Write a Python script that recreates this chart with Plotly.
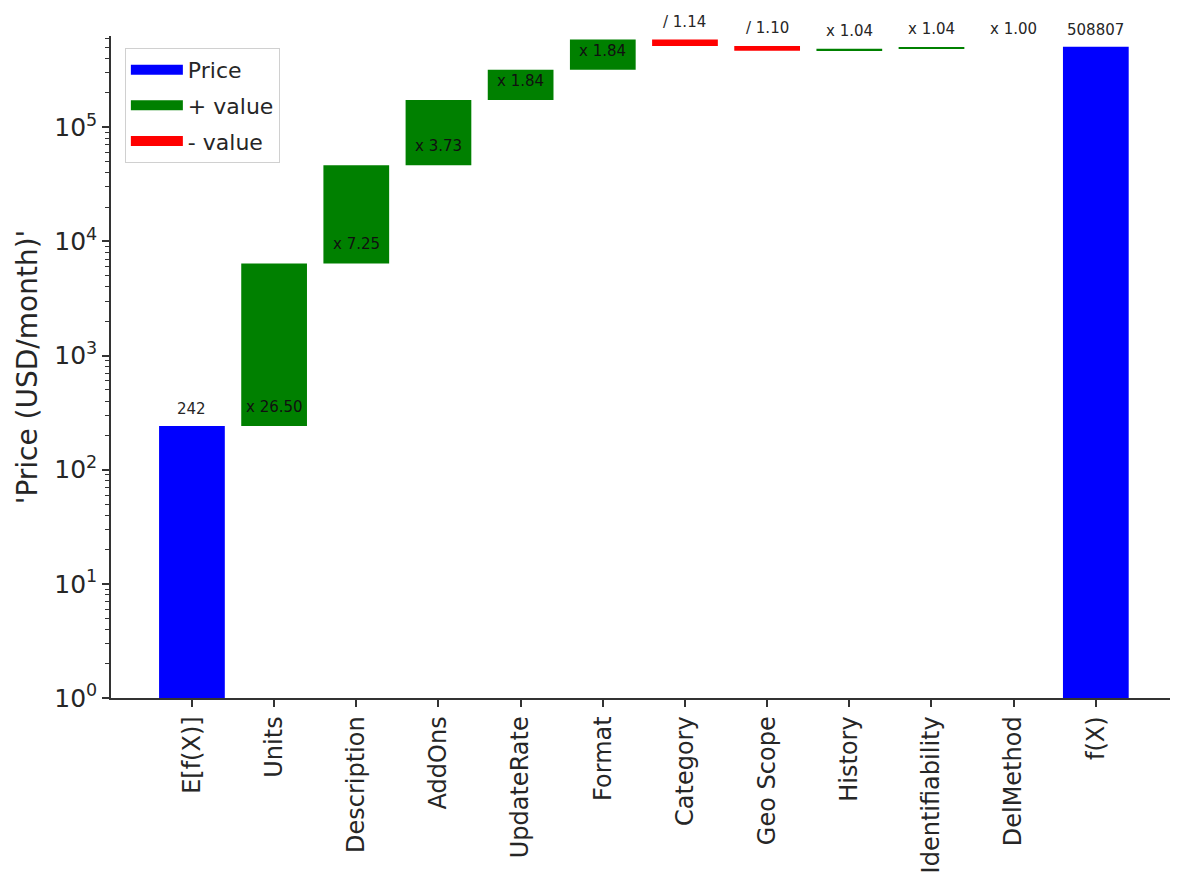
import math
import plotly.graph_objects as go

# ---- data ----
categories = ["E[f(X)]", "Units", "Description", "AddOns", "UpdateRate", "Format",
              "Category", "Geo Scope", "History", "Identifiability", "DelMethod", "f(X)"]
base_price = 242
final_price = 508807
feature_names = categories[1:-1]
ops = ["x", "x", "x", "x", "x", "/", "/", "x", "x", "x"]
factors = [26.50, 7.25, 3.73, 1.84, 1.84, 1.14, 1.10, 1.04, 1.04, 1.00]
legend_names = ["Price", "+ value", "- value"]
ytick_vals = [1, 10, 100, 1000, 10000, 100000]
ytick_text = ["10<sup>0</sup>", "10<sup>1</sup>", "10<sup>2</sup>", "10<sup>3</sup>",
              "10<sup>4</sup>", "10<sup>5</sup>"]

FONT = "DejaVu Sans"
TXT = "#262626"
COLORS = ["#0000FF", "#008000", "#FF0000"]

# cumulative path
starts, ends = [], []
cur = base_price
for op, f in zip(ops, factors):
    new = cur * f if op == "x" else cur / f
    starts.append(cur)
    ends.append(new)
    cur = new

gx, gb, gy = [], [], []
rx, rb, ry = [], [], []
for name, op, s, e in zip(feature_names, ops, starts, ends):
    if op == "x":
        gx.append(name); gb.append(s); gy.append(e - s)
    else:
        rx.append(name); rb.append(e); ry.append(s - e)

fig = go.Figure()
fig.add_trace(go.Bar(x=[categories[0], categories[-1]], y=[base_price, final_price],
                     name=legend_names[0], showlegend=False,
                     marker=dict(color=COLORS[0], line=dict(width=0)), width=0.8))
fig.add_trace(go.Bar(x=gx, y=gy, base=gb, name=legend_names[1], showlegend=False,
                     marker=dict(color=COLORS[1], line=dict(width=0)), width=0.8))
fig.add_trace(go.Bar(x=rx, y=ry, base=rb, name=legend_names[2], showlegend=False,
                     marker=dict(color=COLORS[2], line=dict(width=0)), width=0.8))
# legend entries with wide rectangular keys
for nm, col in zip(legend_names, COLORS):
    fig.add_trace(go.Scatter(x=[None], y=[None], mode="lines", name=nm,
                             legendgroup=nm, line=dict(color=col, width=10),
                             hoverinfo="skip"))

annotations = []
# price labels
for cat, v in [(categories[0], base_price), (categories[-1], final_price)]:
    annotations.append(dict(x=cat, y=math.log10(v), text=str(v), showarrow=False,
                            yanchor="middle", yshift=17,
                            font=dict(family=FONT, size=15, color=TXT)))
# factor labels
for name, op, f, s, e in zip(feature_names, ops, factors, starts, ends):
    lo, hi = min(s, e), max(s, e)
    txt = f"{op} {f:.2f}"
    if math.log10(hi) - math.log10(lo) >= 0.2:
        annotations.append(dict(x=name, y=math.log10(lo), text=txt, showarrow=False,
                                yanchor="middle", yshift=19,
                                font=dict(family=FONT, size=15, color="#101010")))
    else:
        annotations.append(dict(x=name, y=math.log10(hi), text=txt, showarrow=False,
                                yanchor="middle", yshift=18,
                                font=dict(family=FONT, size=15, color=TXT)))

minor_vals = [m * 10 ** k for k in range(0, 6) for m in range(2, 10)]

fig.update_layout(
    width=1170, height=880,
    margin=dict(l=103, r=0, t=28, b=190),
    paper_bgcolor="white", plot_bgcolor="white",
    barmode="overlay",
    font=dict(family=FONT, size=24, color=TXT),
    showlegend=True,
    legend=dict(x=0.013, y=0.982, xanchor="left", yanchor="top",
                bgcolor="white", bordercolor="#d0d0d0", borderwidth=1,
                font=dict(family=FONT, size=22, color=TXT),
                traceorder="grouped", tracegroupgap=4, itemwidth=52),
    annotations=annotations,
    xaxis=dict(type="category", categoryorder="array", categoryarray=categories,
               range=[-0.985, 12.0], showline=True, linecolor="#333333", linewidth=1.5,
               ticks="outside", ticklen=7, tickwidth=1.5, tickcolor="#333333",
               tickangle=-90, tickfont=dict(family=FONT, size=24, color=TXT),
               showgrid=False, zeroline=False),
    yaxis=dict(type="log", range=[0, 5.8], showline=True, linecolor="#333333",
               linewidth=1.5, ticks="outside", ticklen=7, tickwidth=1.5,
               tickcolor="#333333", tickmode="array", tickvals=ytick_vals,
               ticktext=ytick_text, tickfont=dict(family=FONT, size=25, color=TXT),
               minor=dict(tickmode="array", tickvals=minor_vals, ticks="outside",
                          ticklen=4, tickwidth=1, tickcolor="#333333", showgrid=False),
               showgrid=False, zeroline=False,
               title=dict(text="'Price (USD/month)'", standoff=8,
                          font=dict(family=FONT, size=28, color=TXT))),
)

fig.write_html("out.html")
